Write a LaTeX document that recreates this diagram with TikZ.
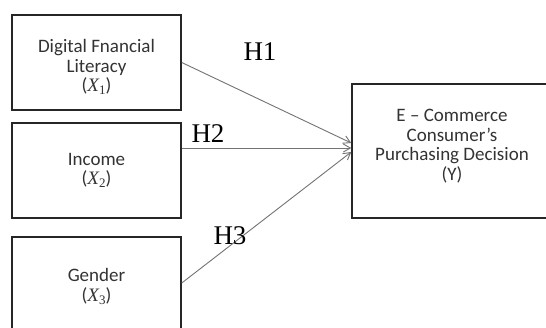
\documentclass[tikz,border=0pt]{standalone}
\usepackage{fontspec}
\setmainfont{Carlito}
\newfontfamily\hfont{Liberation Serif}
\usetikzlibrary{arrows.meta}
\newcommand{\varx}[1]{({\hfont\itshape X}\raisebox{-3pt}{\hfont\fontsize{13}{13}\selectfont #1})}
\tikzset{
  varbox/.style={draw=black!85, line width=1.5pt, minimum width=169pt, align=center,
    text=black!80, font=\fontsize{19}{19.5}\selectfont, inner sep=0pt},
  hyparrow/.style={draw=black!55, line width=0.9pt, -{Straight Barb[length=7pt,width=8pt]}},
  hlabel/.style={font=\hfont\fontsize{27}{27}\selectfont, text=black, inner sep=0pt}
}
\begin{document}
\begin{tikzpicture}[x=1pt,y=-1pt]
\useasboundingbox (0,0) rectangle (546,327);
\fill[white] (0,0) rectangle (546,327);
\clip (0,0) rectangle (546,327);
\node[varbox, minimum height=95pt] (b1) at (96.5,62.5) {\rule{0pt}{22pt}Digital Fnancial\\Literacy\\\varx{1}};
\node[varbox, minimum height=95pt] (b2) at (96.5,170.5) {Income\\\varx{2}};
\node[varbox, minimum height=96pt] (b3) at (96.5,285) {\rule{0pt}{16pt}Gender\\\varx{3}};
\node[varbox, minimum width=200pt, minimum height=134pt] (y) at (452,151) {E -- Commerce\\Consumer’s\\Purchasing Decision\\(Y)\rule[-12pt]{0pt}{12pt}};
\draw[hyparrow] (b1.east) -- ([yshift=8pt]y.west);
\draw[hyparrow] ([yshift=22.5pt]b2.east) -- ([yshift=3pt]y.west);
\draw[hyparrow] ([yshift=2pt]b3.east) -- ([yshift=-1pt]y.west);
\node[hlabel] (h1) at (260,52) {H1};
\node[hlabel] (h2) at (208,134) {H2};
\node[hlabel] (h3) at (230,236) {H3};
\end{tikzpicture}
\end{document}
